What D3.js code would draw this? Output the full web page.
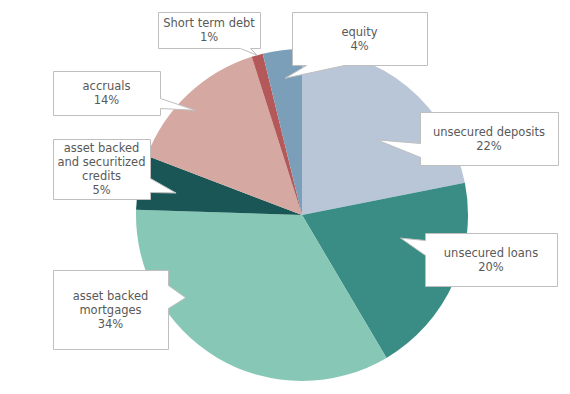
<html>
<head>
<title>Funding mix pie</title>
<script src="https://d3js.org/d3.v7.min.js"></script>
<style>
  body { margin: 0; background: #fff; }
  text { font-family: "DejaVu Sans", Verdana, sans-serif; font-size: 11.5px; fill: #595959; }
</style>
</head>
<body>
<script>
// slices, clockwise from 12 o'clock (shares)
var categories = ["unsecured deposits", "unsecured loans", "asset backed\nmortgages",
                  "asset backed\nand securitized\ncredits", "accruals", "Short term debt", "equity"];
var values = [21.9, 19.6, 34.0, 5.3, 14.3, 1.1, 3.8];
var colors = ["#b9c6d8", "#3a8d85", "#86c7b5", "#1a5656", "#d5a9a1", "#b4585a", "#7b9fb8"];

var width = 570, height = 394;
var cx = 302, cy = 215, radius = 166;

// callout boxes: box [x0,y0,x1,y1], pointer side + base span, tip as (angle deg, radius fraction)
var callouts = [
  {box: [420, 112, 558, 165], side: "left",   base: [143, 157], tip: [45, 0.64]},
  {box: [425, 233, 557, 286], side: "left",   base: [240, 255], tip: [103.2, 0.61]},
  {box: [53, 270, 168, 349],  side: "right",  base: [285, 308], tip: [234.6, 0.86]},
  {box: [53, 139, 150, 199],  side: "right",  base: [178, 192], tip: [279.9, 0.77]},
  {box: [53, 71, 160, 115],   side: "right",  base: [98, 108],  tip: [314.5, 0.90]},
  {box: [158, 12, 260, 48],   side: "bottom", base: [240, 250], tip: [344.3, 1.0]},
  {box: [292, 12, 427, 65],   side: "bottom", base: [306, 344], tip: [352.9, 0.83]}
];

var svg = d3.select("body").append("svg")
    .attr("width", width)
    .attr("height", height);

var pie = d3.pie().sort(null).value(function(d) { return d; });
var arcs = pie(values);
var arc = d3.arc().innerRadius(0).outerRadius(radius);

var g = svg.append("g").attr("transform", "translate(" + cx + "," + cy + ")");
g.selectAll("path.slice").data(arcs).enter()
    .append("path")
    .attr("class", "slice")
    .attr("d", arc)
    .attr("fill", function(d, i) { return colors[i]; });

// polar -> page coords (angle clockwise from top)
function polar(a, f) {
    var rad = a * Math.PI / 180;
    return [cx + Math.sin(rad) * radius * f, cy - Math.cos(rad) * radius * f];
}

function calloutPath(c) {
    var x0 = c.box[0] + 0.5, y0 = c.box[1] + 0.5, x1 = c.box[2] + 0.5, y1 = c.box[3] + 0.5;
    var t = polar(c.tip[0], c.tip[1]);
    var a = c.base[0] + 0.5, b = c.base[1] + 0.5;
    var p = [[x0, y0]];
    if (c.side === "top") p.push([a, y0], t, [b, y0]);
    p.push([x1, y0]);
    if (c.side === "right") p.push([x1, a], t, [x1, b]);
    p.push([x1, y1]);
    if (c.side === "bottom") p.push([b, y1], t, [a, y1]);
    p.push([x0, y1]);
    if (c.side === "left") p.push([x0, b], t, [x0, a]);
    return "M" + p.map(function(q) { return q[0] + "," + q[1]; }).join("L") + "Z";
}

var labels = svg.selectAll("g.callout").data(callouts).enter()
    .append("g").attr("class", "callout");

labels.append("path")
    .attr("d", calloutPath)
    .attr("fill", "#fff")
    .attr("stroke", "#bfbfbf")
    .attr("stroke-width", 1);

labels.each(function(c, i) {
    var lines = categories[i].split("\n").concat([Math.round(values[i]) + "%"]);
    var lh = 14;
    var midX = (c.box[0] + c.box[2]) / 2;
    var midY = (c.box[1] + c.box[3]) / 2;
    var startY = midY - (lines.length - 1) * lh / 2;
    var txt = d3.select(this).append("text")
        .attr("text-anchor", "middle");
    lines.forEach(function(l, j) {
        txt.append("tspan")
            .attr("x", midX)
            .attr("y", startY + j * lh)
            .attr("dy", "0.35em")
            .text(l);
    });
});
</script>
</body>
</html>
